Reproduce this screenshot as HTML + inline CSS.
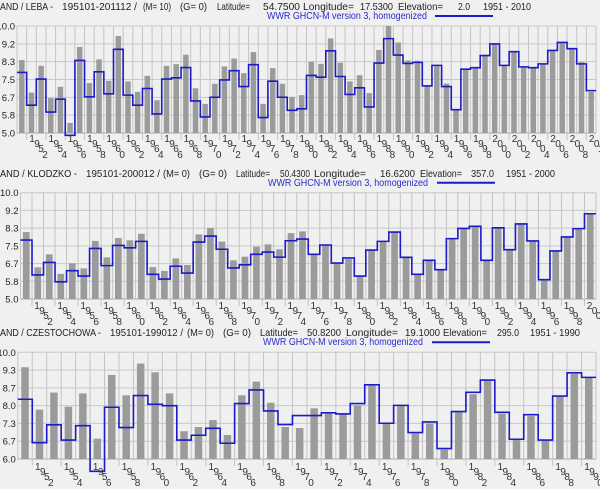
<!DOCTYPE html>
<html><head><meta charset="utf-8"><style>
html,body{margin:0;padding:0;background:#f0f0f0;width:600px;height:489px;overflow:hidden}
svg{display:block;font-family:"Liberation Sans",sans-serif}
.h{font-size:10.5px;fill:#222}
.b{font-size:10.5px;fill:#2a2ad0}
.yl{font-size:9.5px;fill:#222;text-anchor:end}
.yr{font-size:10px;fill:#333}
</style></head><body>
<svg id="s" width="600" height="489" viewBox="0 0 600 489">
<g id="plots"></g>
<g lengthAdjust="spacingAndGlyphs">
<!-- Panel 1 header -->
<text class="h" x="0" y="10" textLength="53" lengthAdjust="spacingAndGlyphs">AND / LEBA -</text>
<text class="h" x="62" y="10" textLength="75" lengthAdjust="spacingAndGlyphs">195101-201112 /</text>
<text class="h" x="143" y="10" textLength="28" lengthAdjust="spacingAndGlyphs">(M= 10)</text>
<text class="h" x="180" y="10" textLength="27" lengthAdjust="spacingAndGlyphs">(G= 0)</text>
<text class="h" x="217" y="10" textLength="33" lengthAdjust="spacingAndGlyphs">Latitude=</text>
<text class="h" x="263" y="10" textLength="37" lengthAdjust="spacingAndGlyphs">54.7500</text>
<text class="h" x="303" y="10" textLength="51" lengthAdjust="spacingAndGlyphs">Longitude=</text>
<text class="h" x="360" y="10" textLength="33" lengthAdjust="spacingAndGlyphs">17.5300</text>
<text class="h" x="398" y="10" textLength="45" lengthAdjust="spacingAndGlyphs">Elevation=</text>
<text class="h" x="458" y="10" textLength="12" lengthAdjust="spacingAndGlyphs">2.0</text>
<text class="h" x="483" y="10" textLength="48" lengthAdjust="spacingAndGlyphs">1951 - 2010</text>
<text class="b" x="267" y="19" textLength="160" lengthAdjust="spacingAndGlyphs">WWR GHCN-M version 3, homogenized</text>
<line x1="435" y1="16" x2="493" y2="16" stroke="#1a1ac8" stroke-width="2"/>
<!-- Panel 2 header -->
<text class="h" x="0" y="177" textLength="77" lengthAdjust="spacingAndGlyphs">AND / KLODZKO -</text>
<text class="h" x="86" y="177" textLength="74" lengthAdjust="spacingAndGlyphs">195101-200012 /</text>
<text class="h" x="163" y="177" textLength="27" lengthAdjust="spacingAndGlyphs">(M= 0)</text>
<text class="h" x="199" y="177" textLength="28" lengthAdjust="spacingAndGlyphs">(G= 0)</text>
<text class="h" x="236" y="177" textLength="34" lengthAdjust="spacingAndGlyphs">Latitude=</text>
<text class="h" x="280" y="177" textLength="30" lengthAdjust="spacingAndGlyphs">50.4300</text>
<text class="h" x="314" y="177" textLength="52" lengthAdjust="spacingAndGlyphs">Longitude=</text>
<text class="h" x="380" y="177" textLength="35" lengthAdjust="spacingAndGlyphs">16.6200</text>
<text class="h" x="420" y="177" textLength="42" lengthAdjust="spacingAndGlyphs">Elevation=</text>
<text class="h" x="471" y="177" textLength="23" lengthAdjust="spacingAndGlyphs">357.0</text>
<text class="h" x="506" y="177" textLength="49" lengthAdjust="spacingAndGlyphs">1951 - 2000</text>
<text class="b" x="268" y="186" textLength="160" lengthAdjust="spacingAndGlyphs">WWR GHCN-M version 3, homogenized</text>
<line x1="437" y1="182.7" x2="495" y2="182.7" stroke="#1a1ac8" stroke-width="2"/>
<!-- Panel 3 header -->
<text class="h" x="0" y="336" textLength="101" lengthAdjust="spacingAndGlyphs">AND / CZESTOCHOWA -</text>
<text class="h" x="110" y="336" textLength="73" lengthAdjust="spacingAndGlyphs">195101-199012 /</text>
<text class="h" x="187" y="336" textLength="27" lengthAdjust="spacingAndGlyphs">(M= 0)</text>
<text class="h" x="223" y="336" textLength="28" lengthAdjust="spacingAndGlyphs">(G= 0)</text>
<text class="h" x="260" y="336" textLength="38" lengthAdjust="spacingAndGlyphs">Latitude=</text>
<text class="h" x="307" y="336" textLength="34" lengthAdjust="spacingAndGlyphs">50.8200</text>
<text class="h" x="346" y="336" textLength="52" lengthAdjust="spacingAndGlyphs">Longitude=</text>
<text class="h" x="405" y="336" textLength="35" lengthAdjust="spacingAndGlyphs">19.1000</text>
<text class="h" x="443" y="336" textLength="44" lengthAdjust="spacingAndGlyphs">Elevation=</text>
<text class="h" x="497" y="336" textLength="22" lengthAdjust="spacingAndGlyphs">295.0</text>
<text class="h" x="530" y="336" textLength="50" lengthAdjust="spacingAndGlyphs">1951 - 1990</text>
<text class="b" x="263" y="345" textLength="160" lengthAdjust="spacingAndGlyphs">WWR GHCN-M version 3, homogenized</text>
<line x1="432" y1="342.3" x2="490" y2="342.3" stroke="#1a1ac8" stroke-width="2"/>
</g>
<!-- Y labels -->
<g id="y1"><text class="yl">10.0</text><text class="yl">9.2</text><text class="yl">8.3</text><text class="yl">7.5</text><text class="yl">6.7</text><text class="yl">5.8</text><text class="yl">5.0</text></g>
<g id="y2"><text class="yl">10.0</text><text class="yl">9.2</text><text class="yl">8.3</text><text class="yl">7.5</text><text class="yl">6.7</text><text class="yl">5.8</text><text class="yl">5.0</text></g>
<g id="y3"><text class="yl">10.0</text><text class="yl">9.3</text><text class="yl">8.7</text><text class="yl">8.0</text><text class="yl">7.3</text><text class="yl">6.7</text><text class="yl">6.0</text></g>
<!-- X labels -->
<g id="x1"><text class="yr">1952</text><text class="yr">1954</text><text class="yr">1956</text><text class="yr">1958</text><text class="yr">1960</text><text class="yr">1962</text><text class="yr">1964</text><text class="yr">1966</text><text class="yr">1968</text><text class="yr">1970</text><text class="yr">1972</text><text class="yr">1974</text><text class="yr">1976</text><text class="yr">1978</text><text class="yr">1980</text><text class="yr">1982</text><text class="yr">1984</text><text class="yr">1986</text><text class="yr">1988</text><text class="yr">1990</text><text class="yr">1992</text><text class="yr">1994</text><text class="yr">1996</text><text class="yr">1998</text><text class="yr">2000</text><text class="yr">2002</text><text class="yr">2004</text><text class="yr">2006</text><text class="yr">2008</text><text class="yr">2010</text></g>
<g id="x2"><text class="yr">1952</text><text class="yr">1954</text><text class="yr">1956</text><text class="yr">1958</text><text class="yr">1960</text><text class="yr">1962</text><text class="yr">1964</text><text class="yr">1966</text><text class="yr">1968</text><text class="yr">1970</text><text class="yr">1972</text><text class="yr">1974</text><text class="yr">1976</text><text class="yr">1978</text><text class="yr">1980</text><text class="yr">1982</text><text class="yr">1984</text><text class="yr">1986</text><text class="yr">1988</text><text class="yr">1990</text><text class="yr">1992</text><text class="yr">1994</text><text class="yr">1996</text><text class="yr">1998</text><text class="yr">2000</text></g>
<g id="x3"><text class="yr">1952</text><text class="yr">1954</text><text class="yr">1956</text><text class="yr">1958</text><text class="yr">1960</text><text class="yr">1962</text><text class="yr">1964</text><text class="yr">1966</text><text class="yr">1968</text><text class="yr">1970</text><text class="yr">1972</text><text class="yr">1974</text><text class="yr">1976</text><text class="yr">1978</text><text class="yr">1980</text><text class="yr">1982</text><text class="yr">1984</text><text class="yr">1986</text><text class="yr">1988</text><text class="yr">1990</text></g>
</svg>
<script>
var NS="http://www.w3.org/2000/svg";
var P=[
{L:17,R:596,n:60,top:26,bot:133,vmin:5,vmax:10,bw:5.5,lx:29.2,ly:142,yid:"y1",xid:"x1",
bar:[8.41,6.89,8.14,6.63,7.16,5.47,9.02,7.33,8.44,7.44,9.53,7.41,6.92,7.67,6.53,8.14,8.22,8.66,7.09,6.36,7.30,8.11,8.48,7.80,8.78,6.36,8.03,7.30,6.69,6.77,8.33,8.23,9.42,8.28,7.41,7.70,6.86,8.88,10.0,9.23,8.39,8.38,7.20,8.17,7.31,6.09,7.98,8.05,8.62,9.16,8.16,8.80,8.09,8.05,8.23,8.86,9.23,8.94,8.31,6.92],
ln:[7.83,6.30,7.52,5.98,6.58,4.89,8.39,6.69,7.86,6.83,8.91,6.77,6.30,7.08,5.89,7.52,7.58,8.06,6.50,5.75,6.67,7.48,7.91,7.17,8.19,5.72,7.42,6.67,6.06,6.13,7.69,7.61,8.84,7.64,6.80,7.11,6.22,8.27,9.41,8.64,8.25,8.30,7.20,8.16,7.17,6.09,7.98,8.05,8.62,9.16,8.16,8.80,8.09,8.05,8.23,8.86,9.23,8.94,8.23,6.98]},
{L:20.5,R:596,n:50,top:192.7,bot:299,vmin:5,vmax:10,bw:6.7,lx:34.3,ly:309,yid:"y2",xid:"x2",
bar:[8.15,6.49,7.10,6.18,6.68,6.44,7.73,6.96,7.87,7.76,8.07,6.50,6.32,6.91,6.60,8.04,8.34,7.70,6.82,6.99,7.46,7.57,7.34,8.10,8.18,7.07,7.54,6.69,6.88,6.08,7.30,7.71,8.15,6.96,6.16,6.82,6.38,7.84,8.32,8.42,6.82,8.35,7.32,8.53,7.73,5.91,7.26,7.92,8.31,9.01],
ln:[7.77,6.13,6.72,5.81,6.33,6.08,7.38,6.57,7.52,7.41,7.71,6.16,5.94,6.54,6.22,7.68,7.96,7.34,6.46,6.61,7.10,7.21,6.97,7.74,7.82,7.10,7.54,6.69,6.93,6.08,7.30,7.71,8.15,6.96,6.16,6.82,6.38,7.84,8.32,8.42,6.82,8.35,7.32,8.53,7.73,5.91,7.26,7.92,8.31,9.01]},
{L:17.8,R:596,n:40,top:352.3,bot:459,vmin:6,vmax:10,bw:7.5,lx:35,ly:470,yid:"y3",xid:"x3",
bar:[9.44,7.85,8.49,7.96,8.46,6.76,9.15,8.39,9.58,9.25,8.46,7.04,7.20,7.46,6.90,8.39,8.90,8.11,7.20,7.16,7.90,7.70,7.68,8.01,8.75,7.33,8.00,6.95,7.33,6.35,7.75,8.43,8.93,7.70,6.74,7.61,6.68,8.33,9.19,9.04],
ln:[8.24,6.61,7.28,6.71,7.25,5.54,7.94,7.18,8.38,8.05,8.00,6.71,6.89,7.15,6.59,8.08,8.59,7.80,7.29,7.63,7.63,7.73,7.69,8.08,8.78,7.34,8.01,6.99,7.39,6.39,7.78,8.50,8.96,7.75,6.74,7.66,6.71,8.36,9.23,9.06]}
];
var g=document.getElementById("plots");
function el(t,a){var e=document.createElementNS(NS,t);for(var k in a)e.setAttribute(k,a[k]);g.appendChild(e);return e;}
P.forEach(function(p){
 var w=(p.R-p.L)/p.n;
 function Y(v){return p.bot-(v-p.vmin)/(p.vmax-p.vmin)*(p.bot-p.top);}
 for(var j=0;j<7;j++){var yy=p.top+j*(p.bot-p.top)/6;el("line",{x1:p.L,x2:p.R,y1:yy,y2:yy,stroke:j==6?"#a8a8a8":"#c8c8c8","stroke-width":1});}
 for(var i=0;i<=p.n;i++){var x=p.L+i*w;var y2=(i%2==1)?p.bot+7:p.bot;el("line",{x1:x,x2:x,y1:p.top,y2:y2,stroke:"#c4c4c4","stroke-width":1});}
 for(var i=0;i<p.n;i++){var cx=p.L+(i+0.5)*w;var t=Math.max(Y(p.bar[i]),p.top);el("rect",{x:cx-p.bw/2,y:t,width:p.bw,height:p.bot-t,fill:"#9b9b9b"});}
 var d="";
 for(var i=0;i<p.n;i++){var y=Y(p.ln[i]);d+=(i==0?"M":"L")+(p.L+i*w)+","+y+"L"+(p.L+(i+1)*w)+","+y;}
 el("path",{d:d,fill:"none",stroke:"#1a1ac8","stroke-width":1.6});
 var ys=document.getElementById(p.yid).children;
 for(var j=0;j<ys.length;j++){ys[j].setAttribute("x",p.L-2);ys[j].setAttribute("y",p.top+j*(p.bot-p.top)/6+3.5);}
 var xs=document.getElementById(p.xid).children;
 for(var k=0;k<xs.length;k++){var s=xs[k].textContent;var x0=p.lx+2*k*w;var t=xs[k];t.textContent="";
  var off=[[0,0],[5,5],[9,10],[13,16]];
  for(var c=0;c<4;c++){var ts=document.createElementNS(NS,"tspan");ts.setAttribute("x",x0+off[c][0]);ts.setAttribute("y",p.ly+off[c][1]);ts.textContent=s[c];t.appendChild(ts);}
 }
});
</script>
</body></html>
